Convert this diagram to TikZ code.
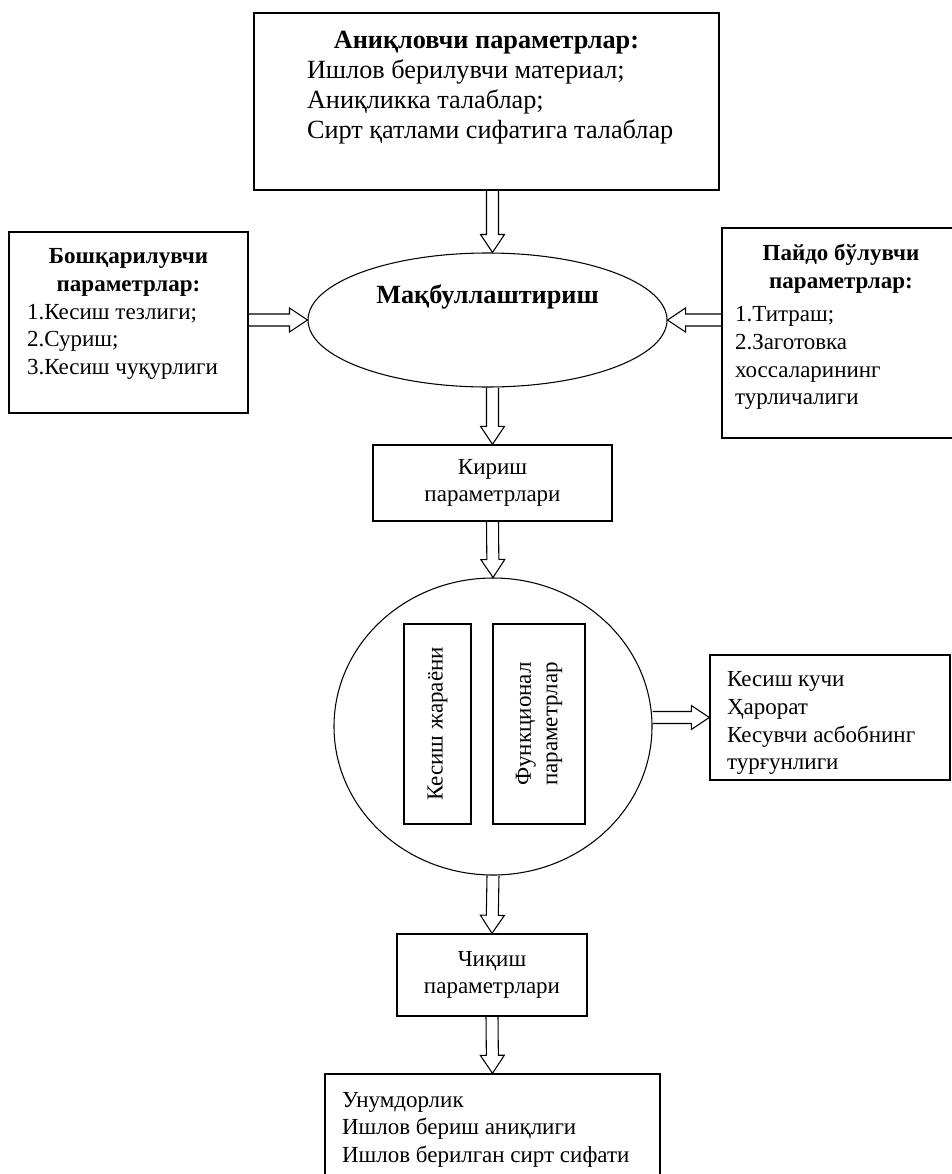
\documentclass[tikz,border=0pt]{standalone}
\usepackage{fontspec}
\setmainfont{Liberation Serif}
\usetikzlibrary{calc, shapes.geometric}

\newcommand{\boxtxt}[4]{\parbox[c][#2][t]{#1}{\vspace*{#3}#4}}

\tikzset{
    box/.style={draw, line width=1.05pt, inner sep=0pt},
    oval/.style={draw, ellipse, line width=0.8pt, inner sep=0pt},
    big/.style={font=\fontsize{19.7}{22.65}\selectfont},
    hollow/.style={line width=0.8pt, to path={
        ($(\tikztostart)!4.5pt!90:(\tikztotarget)$)
        -- ($(\tikztotarget)!13.5pt!(\tikztostart)!4.5pt!90:(\tikztotarget)$)
        -- ($(\tikztotarget)!13.5pt!(\tikztostart)!9pt!90:(\tikztotarget)$)
        -- (\tikztotarget)
        -- ($(\tikztotarget)!13.5pt!(\tikztostart)!9pt!-90:(\tikztotarget)$)
        -- ($(\tikztotarget)!13.5pt!(\tikztostart)!4.5pt!-90:(\tikztotarget)$)
        -- ($(\tikztostart)!4.5pt!-90:(\tikztotarget)$)}}
}

\begin{document}
\begin{tikzpicture}[x=0.75pt, y=-0.75pt, font=\fontsize{17.25}{20.75}\selectfont]
            \useasboundingbox (0, 0) rectangle (951, 1174);

            \node [box, big] (defp) at (486.5, 101.5) {\boxtxt{348.75pt}{132.75pt}{13.25pt}{
                {\centering\bfseries Аниқловчи параметрлар:\par}
                \raggedright\leftskip=39.75pt Ишлов берилувчи материал;\\Аниқликка талаблар;\\Сирт қатлами сифатига талаблар}};
            \node [oval, big, minimum width=269.25pt, minimum height=100.5pt] (opt) at (487.5, 320) {\raisebox{12.75pt}[0pt][0pt]{\bfseries Мақбуллаштириш}};
            \node [box] (bp) at (128.5, 322.5) {\boxtxt{179.25pt}{135.75pt}{12.6pt}{
                {\centering\bfseries Бошқарилувчи\\параметрлар:\par}
                \raggedright\leftskip=13.5pt 1.Кесиш тезлиги;\\2.Суриш;\\3.Кесиш чуқурлиги}};
            \node [box] (pb) at (841, 333) {\boxtxt{178.5pt}{157.5pt}{12pt}{
                {\centering\bfseries Пайдо бўлувчи\\параметрлар:\par}\vspace{4.5pt}
                \raggedright\leftskip=9.75pt 1.Титраш;\\2.Заготовка\\хоссаларининг\\турличалиги}};
            \node [box, minimum width=179.25pt, minimum height=57pt, align=center, font=\fontsize{17.25}{19.85}\selectfont] (kir) at (492.5, 483) {Кириш\\параметрлари};
            \node [oval, minimum width=238.5pt, minimum height=222.75pt] (cut) at (493, 726.5) {};
            \node [box, rotate=90, minimum width=150pt, minimum height=50.25pt] (kj) at (437.5, 724) {Кесиш жараёни};
            \node [box, rotate=90, minimum width=150pt, minimum height=69pt, align=center, font=\fontsize{17.25}{19.85}\selectfont] (fp) at (539, 724) {Функционал\\параметрлар};
            \node [box] (kuchi) at (830, 717.5) {\boxtxt{180pt}{93.75pt}{12.5pt}{
                \raggedright\leftskip=12.75pt Кесиш кучи\\Ҳарорат\\Кесувчи асбобнинг\\турғунлиги}};
            \node [box, minimum width=142.5pt, minimum height=61.5pt, align=center, font=\fontsize{17.25}{19.85}\selectfont] (chiq) at (492, 975) {Чиқиш\\параметрлари};
            \node [box] (res) at (492.5, 1132) {\boxtxt{251.25pt}{87pt}{13.6pt}{
                \raggedright\leftskip=12.75pt Унумдорлик\\Ишлов бериш аниқлиги\\Ишлов берилган сирт сифати}};

            \draw [hollow] (defp.south -| kir.north) to (opt.north -| kir.north);
            \draw [hollow] (bp.east |- opt.west) to (opt.west);
            \draw [hollow] (pb.west |- opt.east) to (opt.east);
            \draw [hollow] (opt.south -| kir.north) to (kir.north);
            \draw [hollow] (kir.south) to (cut.north);
            \draw [hollow] (cut.east |- kuchi.west) to (kuchi.west);
            \draw [hollow] (cut.south) to (chiq.north);
            \draw [hollow] (chiq.south) to (res.north);
        \end{tikzpicture}
\end{document}
